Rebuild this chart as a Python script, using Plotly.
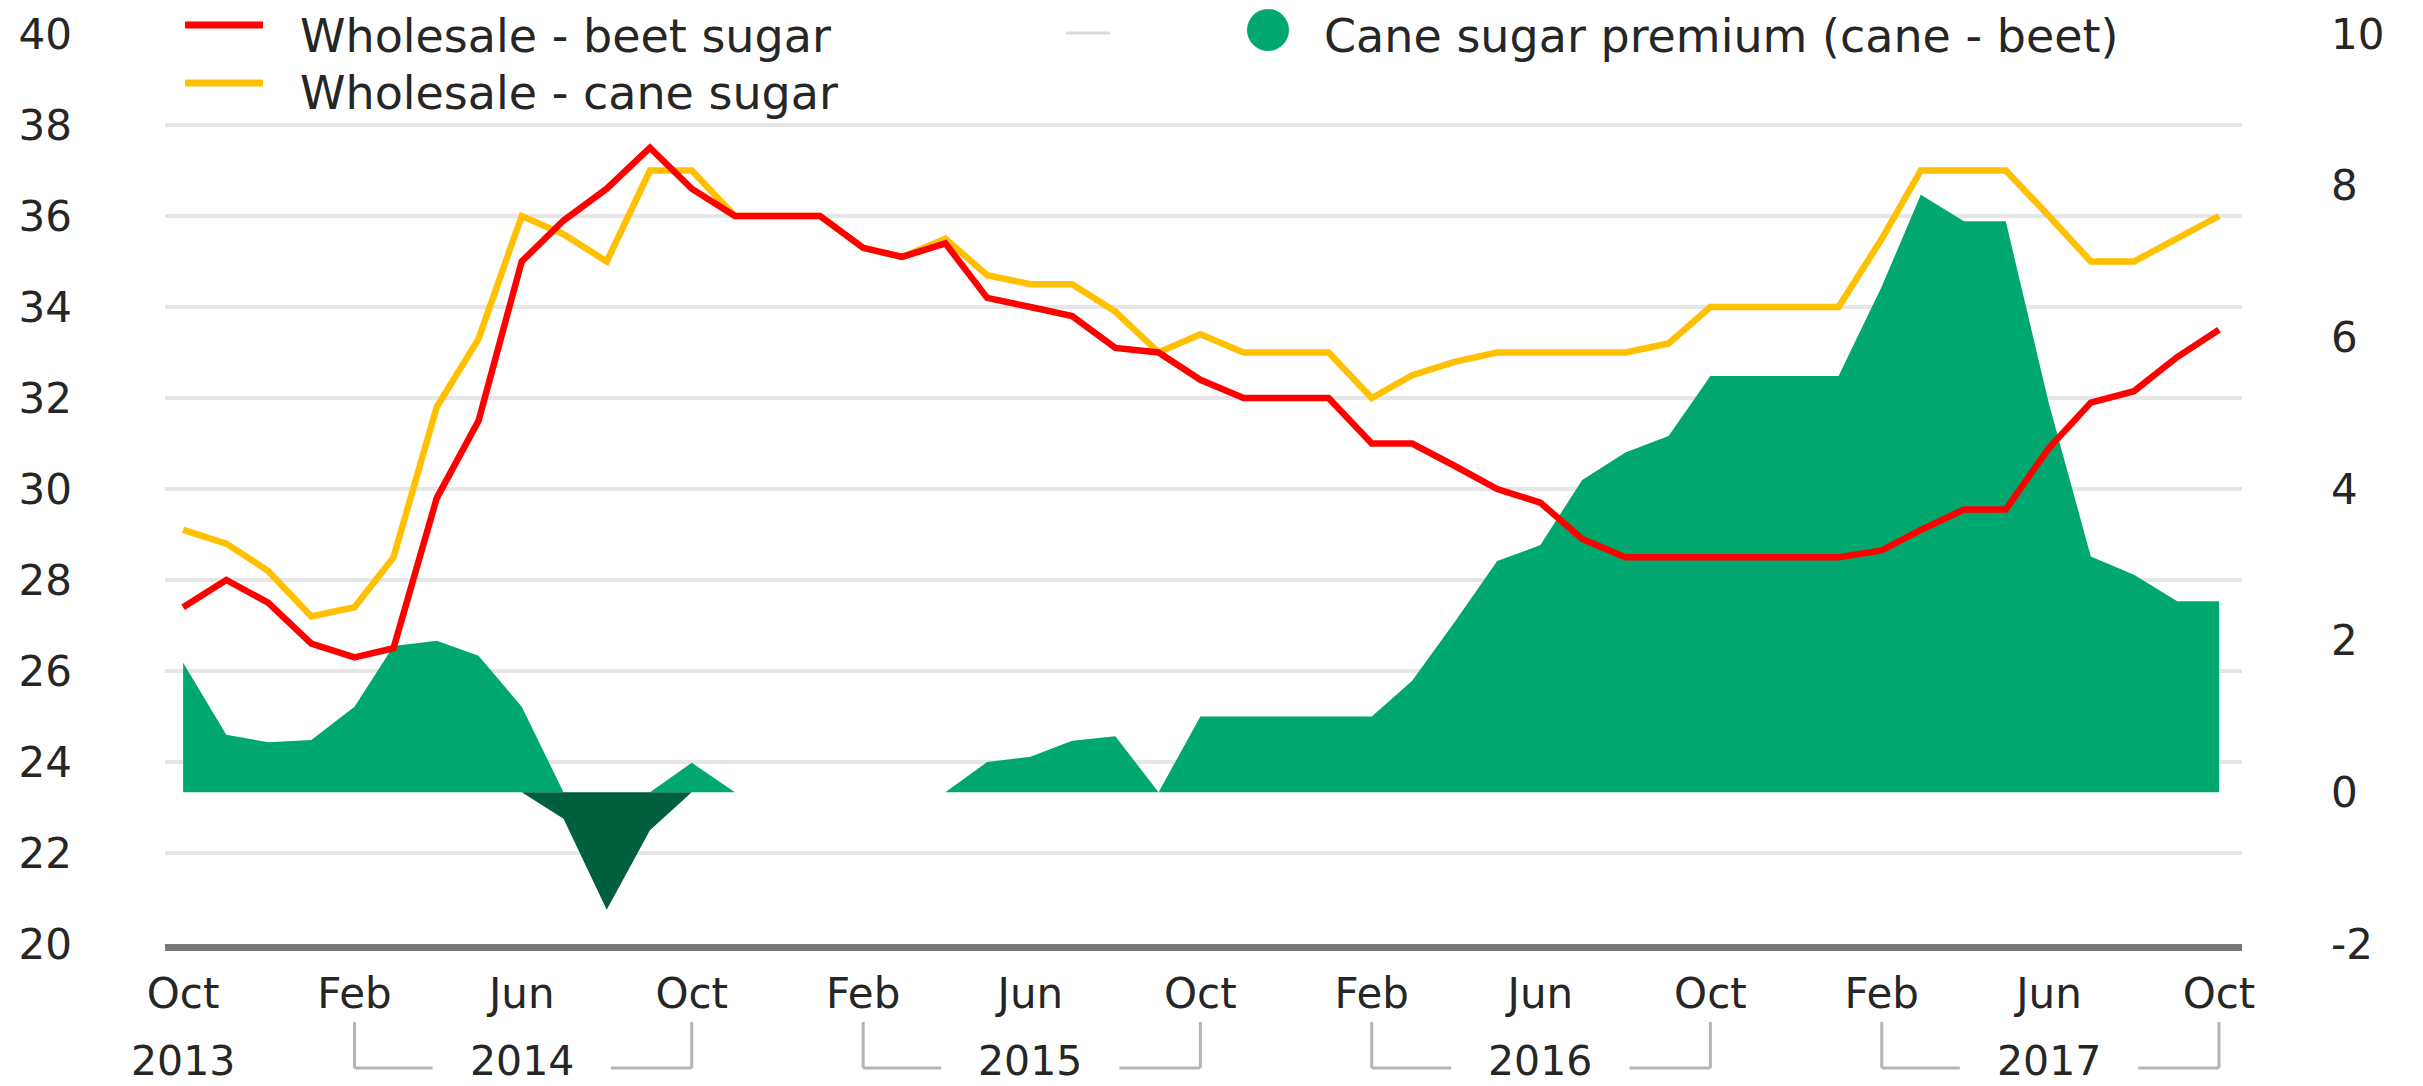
import plotly.graph_objects as go
import pandas as pd

# monthly observations, Oct 2013 .. Oct 2017
months = pd.date_range("2013-10-01", "2017-10-01", freq="MS")

beet_sugar = [
    27.4, 28.0, 27.5, 26.6, 26.3, 26.5, 29.8, 31.5, 35.0, 35.9, 36.6, 37.5,
    36.6, 36.0, 36.0, 36.0, 35.3, 35.1, 35.4, 34.2, 34.0, 33.8, 33.1, 33.0,
    32.4, 32.0, 32.0, 32.0, 31.0, 31.0, 30.5, 30.0, 29.7, 28.9, 28.5, 28.5,
    28.5, 28.5, 28.5, 28.5, 28.65, 29.1, 29.55, 29.55, 30.9, 31.9, 32.15, 32.9, 33.5,
]
cane_sugar = [
    29.1, 28.8, 28.2, 27.2, 27.4, 28.5, 31.8, 33.3, 36.0, 35.6, 35.0, 37.0,
    37.0, 36.0, 36.0, 36.0, 35.3, 35.1, 35.5, 34.7, 34.5, 34.5, 33.9, 33.0,
    33.4, 33.0, 33.0, 33.0, 32.0, 32.5, 32.8, 33.0, 33.0, 33.0, 33.0, 33.2,
    34.0, 34.0, 34.0, 34.0, 35.5, 37.0, 37.0, 37.0, 36.0, 35.0, 35.0, 35.5, 36.0,
]
cane_premium = [
    1.71, 0.76, 0.66, 0.69, 1.13, 1.93, 2.0, 1.8, 1.13, -0.35, -1.55, -0.5,
    0.39, 0, 0, 0, 0, 0, 0, 0.4, 0.47, 0.68, 0.74, 0,
    1.0, 1.0, 1.0, 1.0, 1.0, 1.47, 2.26, 3.05, 3.26, 4.12, 4.48, 4.7,
    5.49, 5.49, 5.49, 5.49, 6.67, 7.88, 7.53, 7.53, 5.12, 3.11, 2.87, 2.52, 2.52,
]

tick_dates = ["2013-10-01", "2014-02-01", "2014-06-01", "2014-10-01", "2015-02-01",
              "2015-06-01", "2015-10-01", "2016-02-01", "2016-06-01", "2016-10-01",
              "2017-02-01", "2017-06-01", "2017-10-01"]
tick_text = ["Oct", "Feb", "Jun", "Oct", "Feb", "Jun", "Oct",
             "Feb", "Jun", "Oct", "Feb", "Jun", "Oct"]
year_labels = ["2013", "2014", "2015", "2016", "2017"]
year_centres = ["2013-10-01", "2014-06-01", "2015-06-01", "2016-06-01", "2017-06-01"]
right_ticks = [-2, 0, 2, 4, 6, 8, 10]
right_text = ["-2", "0", "2", "4", "6", "8", "10"]

left_range = [20, 40]
right_range = [-2, 10]

FONT = "DejaVu Sans"
TXT = "#262626"
RED = "#ff0000"
YELLOW = "#ffc000"
GREEN = "#00a870"
DARK_GREEN = "#00603d"
GRID = "#e6e6e6"

# page body has an 8px margin, so the figure is laid out 8px in from the window
OFF = 8
W, H = 2423 - OFF, 1086 - OFF
PLOT_L, PLOT_R, PLOT_T, PLOT_B = 165, 2242, 34, 944   # window pixels
ML, MT = PLOT_L - OFF, PLOT_T - OFF
MR, MB = W - (PLOT_R - OFF), H - (PLOT_B - OFF)
PW, PH = PLOT_R - PLOT_L, PLOT_B - PLOT_T


def px(xw):
    return (xw - PLOT_L) / PW


def py(yw):
    return (PLOT_B - yw) / PH


fig = go.Figure()

# premium area on the base subplot so the price lines sit on top of it;
# positive and negative parts get their own colour
premium_pos = [max(v, 0) for v in cane_premium]
premium_neg = [min(v, 0) for v in cane_premium]
for vals, col in [(premium_pos, GREEN), (premium_neg, DARK_GREEN)]:
    fig.add_trace(go.Scatter(
        x=months, y=vals, yaxis="y",
        mode="lines", line=dict(width=0, color=col),
        fill="tozeroy", fillcolor=col,
        hoverinfo="skip", showlegend=False,
    ))

fig.add_trace(go.Scatter(
    x=months, y=cane_sugar, yaxis="y2", mode="lines",
    line=dict(color=YELLOW, width=6.5), showlegend=False,
))
fig.add_trace(go.Scatter(
    x=months, y=beet_sugar, yaxis="y2", mode="lines",
    line=dict(color=RED, width=6.5), showlegend=False,
))

shapes = []
annotations = []

# legend drawn by hand
shapes.append(dict(type="line", xref="paper", yref="paper", x0=px(185), x1=px(263),
                   y0=py(25), y1=py(25), line=dict(color=RED, width=7)))
shapes.append(dict(type="line", xref="paper", yref="paper", x0=px(185), x1=px(263),
                   y0=py(83), y1=py(83), line=dict(color=YELLOW, width=7)))
shapes.append(dict(type="line", xref="paper", yref="paper", x0=px(1066), x1=px(1110),
                   y0=py(33), y1=py(33), line=dict(color="#dcdcdc", width=3)))
shapes.append(dict(type="circle", xref="paper", yref="paper", xsizemode="pixel",
                   ysizemode="pixel", xanchor=px(1268), yanchor=py(30),
                   x0=-21, x1=21, y0=-21, y1=21, fillcolor=GREEN, line=dict(width=0)))
for txt, xw, yw in [("Wholesale - beet sugar", 298, 36),
                    ("Wholesale - cane sugar", 298, 93),
                    ("Cane sugar premium (cane - beet)", 1322, 36)]:
    annotations.append(dict(text=txt, xref="paper", yref="paper", x=px(xw), y=py(yw),
                            xanchor="left", yanchor="middle", showarrow=False,
                            font=dict(family=FONT, size=46, color=TXT)))

# year labels and brackets under the month ticks
gap = pd.Timedelta(days=64)
for i, (lab, c) in enumerate(zip(year_labels, year_centres)):
    annotations.append(dict(text=lab, xref="x", yref="paper", x=c, y=py(1061),
                            xanchor="center", yanchor="middle", showarrow=False,
                            font=dict(family=FONT, size=41, color=TXT)))
    if i == 0:
        continue
    yr = int(lab)
    feb = pd.Timestamp(f"{yr}-02-01")
    octo = pd.Timestamp(f"{yr}-10-01")
    mid = pd.Timestamp(c)
    for (xa, ya, xb, yb) in [(feb, 1022, feb, 1068), (feb, 1068, mid - gap, 1068),
                             (mid + gap, 1068, octo, 1068), (octo, 1068, octo, 1022)]:
        shapes.append(dict(type="line", xref="x", yref="paper", x0=xa, x1=xb,
                           y0=py(ya), y1=py(yb), line=dict(color="#b4b4b4", width=3)))

fig.update_layout(
    width=W, height=H, autosize=False,
    margin=dict(l=ML, r=MR, t=MT, b=MB, pad=0, autoexpand=False),
    paper_bgcolor="white", plot_bgcolor="white",
    showlegend=False,
    font=dict(family=FONT, color=TXT),
    xaxis=dict(
        type="date", range=["2013-09-18", "2017-10-17 12:00"],
        tickvals=tick_dates, ticktext=tick_text,
        tickfont=dict(family=FONT, size=42, color=TXT),
        showgrid=False, zeroline=False, ticks="", automargin=False,
        showline=True, linecolor="#787878", linewidth=7,
        ticklabelstandoff=7,
    ),
    yaxis=dict(
        side="right", range=right_range, tickvals=right_ticks, ticktext=right_text,
        showgrid=False, zeroline=False, ticks="", automargin=False,
        tickfont=dict(family=FONT, size=42, color=TXT),
        ticklabelstandoff=88,
    ),
    yaxis2=dict(
        overlaying="y", side="left", range=left_range,
        tickvals=list(range(20, 41, 2)),
        showgrid=False, zeroline=False, ticks="", automargin=False,
        tickfont=dict(family=FONT, size=42, color=TXT),
        ticklabelstandoff=92,
        minor=dict(tickmode="array", tickvals=list(range(22, 39, 2)), showgrid=True,
                   gridcolor=GRID, gridwidth=4, ticks=""),
    ),
    shapes=shapes,
    annotations=annotations,
)

fig.write_html("out.html")
